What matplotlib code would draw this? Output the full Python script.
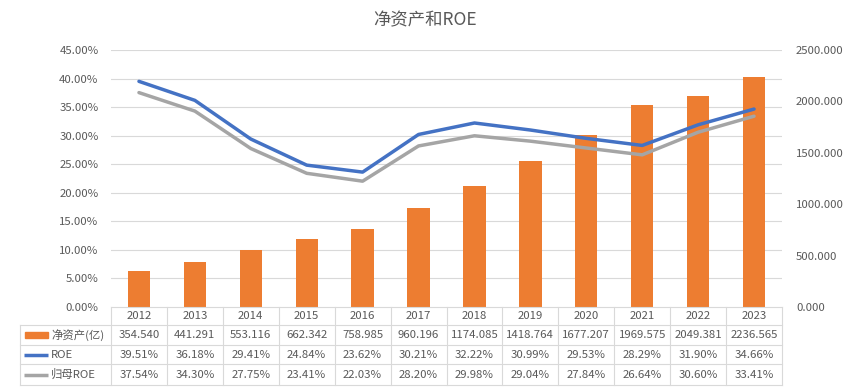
import matplotlib
matplotlib.use("Agg")
import matplotlib.pyplot as plt
from matplotlib.patches import Rectangle
from matplotlib.lines import Line2D
import numpy as np

plt.rcParams['font.family'] = ['Noto Sans CJK SC', 'DejaVu Sans']

years = ['2012', '2013', '2014', '2015', '2016', '2017', '2018', '2019', '2020', '2021', '2022', '2023']
net_assets = [354.540, 441.291, 553.116, 662.342, 758.985, 960.196, 1174.085, 1418.764, 1677.207, 1969.575, 2049.381, 2236.565]
roe = [39.51, 36.18, 29.41, 24.84, 23.62, 30.21, 32.22, 30.99, 29.53, 28.29, 31.90, 34.66]
roe_parent = [37.54, 34.30, 27.75, 23.41, 22.03, 28.20, 29.98, 29.04, 27.84, 26.64, 30.60, 33.41]
labels = ['净资产(亿)', 'ROE', '归母ROE']

ORANGE = '#ED7D31'
BLUE = '#4472C4'
GRAY = '#A5A5A5'
TXT = '#595959'
GRID = '#D9D9D9'

W, H = 850, 389
fig = plt.figure(figsize=(8.5, 3.89), dpi=100)
ax_l, ax_r, ax_t, ax_b = 111, 782, 50, 307
ax = fig.add_axes([ax_l / W, 1 - ax_b / H, (ax_r - ax_l) / W, (ax_b - ax_t) / H])
ax2 = ax.twinx()

x = np.arange(len(years))
ax.set_xlim(-0.5, len(years) - 0.5)
ax.set_ylim(0, 45)
ax2.set_ylim(0, 2500)

# bars on secondary axis (drawn beneath lines)
ax2.bar(x, net_assets, width=0.4, color=ORANGE, zorder=1)
ax.set_zorder(ax2.get_zorder() + 1)
ax.patch.set_visible(False)

ax.plot(x, roe, color=BLUE, lw=2.5, zorder=3, solid_capstyle='round')
ax.plot(x, roe_parent, color=GRAY, lw=2.5, zorder=2, solid_capstyle='round')

ax.set_yticks(np.arange(0, 46, 5))
ax.set_yticklabels([f'{v:.2f}%' for v in np.arange(0, 46, 5)])
ax2.set_yticks(np.arange(0, 2501, 500))
ax2.set_yticklabels([f'{v:.3f}' for v in np.arange(0, 2501, 500)])
for a in (ax, ax2):
    a.tick_params(length=0, labelsize=8.2, labelcolor=TXT)
    for s in a.spines.values():
        s.set_visible(False)
ax.tick_params(axis='y', pad=9)
ax2.tick_params(axis='y', pad=10)
ax.set_xticks([])
ax2.set_xticks([])
ax2.grid(False)
for v in np.arange(5, 46, 5):
    ax2.axhline(v / 45 * 2500, color=GRID, lw=0.8, zorder=0)

fig.text(0.5, 1 - 20 / H, '净资产和ROE', ha='center', va='center', fontsize=12.5, color=TXT)

# data table
def fy(py):
    return 1 - py / H

def fx_col(i):
    # left edge of column i in figure coords
    return (ax_l + (ax_r - ax_l) * i / len(years)) / W

row_edges = [307, 325, 345, 364, 385]
tbl_left = 20
line_kw = dict(color=GRID, lw=0.8, transform=fig.transFigure)
# horizontal lines
fig.add_artist(Line2D([ax_l / W, ax_r / W], [fy(row_edges[0])] * 2, **line_kw))
for yy in row_edges[1:]:
    fig.add_artist(Line2D([tbl_left / W, ax_r / W], [fy(yy)] * 2, **line_kw))
# vertical lines
for i in range(len(years) + 1):
    fig.add_artist(Line2D([fx_col(i)] * 2, [fy(row_edges[0]), fy(row_edges[-1])], **line_kw))
fig.add_artist(Line2D([tbl_left / W] * 2, [fy(row_edges[1]), fy(row_edges[-1])], **line_kw))

fs = 8.2
for i, yr in enumerate(years):
    cx = (fx_col(i) + fx_col(i + 1)) / 2
    fig.text(cx, fy((row_edges[0] + row_edges[1]) / 2), yr, ha='center', va='center', fontsize=fs, color=TXT)
    fig.text(cx, fy((row_edges[1] + row_edges[2]) / 2), f'{net_assets[i]:.3f}', ha='center', va='center', fontsize=fs, color=TXT)
    fig.text(cx, fy((row_edges[2] + row_edges[3]) / 2), f'{roe[i]:.2f}%', ha='center', va='center', fontsize=fs, color=TXT)
    fig.text(cx, fy((row_edges[3] + row_edges[4]) / 2), f'{roe_parent[i]:.2f}%', ha='center', va='center', fontsize=fs, color=TXT)

# row labels with legend keys
r1 = (row_edges[1] + row_edges[2]) / 2
fig.add_artist(Rectangle((25 / W, fy(r1 + 3)), 23 / W, 6 / H, color=ORANGE, transform=fig.transFigure))
fig.text(51 / W, fy(r1), labels[0], ha='left', va='center', fontsize=fs, color=TXT)
r2 = (row_edges[2] + row_edges[3]) / 2
fig.add_artist(Line2D([24 / W, 48 / W], [fy(r2)] * 2, color=BLUE, lw=2.5, solid_capstyle='butt', transform=fig.transFigure))
fig.text(51 / W, fy(r2), labels[1], ha='left', va='center', fontsize=fs, color=TXT)
r3 = (row_edges[3] + row_edges[4]) / 2
fig.add_artist(Line2D([24 / W, 48 / W], [fy(r3)] * 2, color=GRAY, lw=2.5, solid_capstyle='butt', transform=fig.transFigure))
fig.text(51 / W, fy(r3), labels[2], ha='left', va='center', fontsize=fs, color=TXT)

fig.savefig('out.png', dpi=100, facecolor='white')
